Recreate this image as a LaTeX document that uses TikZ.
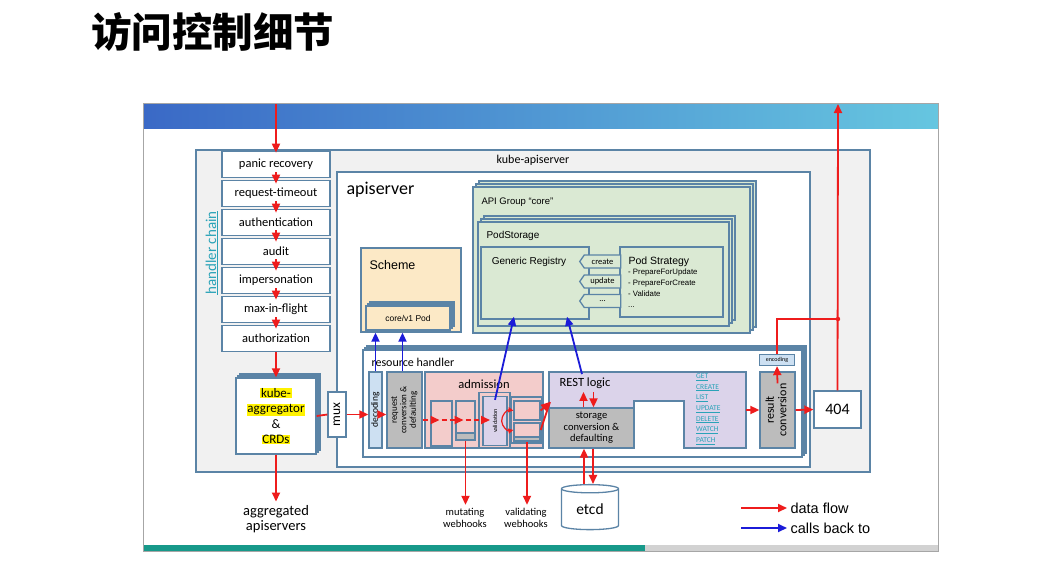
\documentclass[tikz,border=0pt]{standalone}
\usepackage{fontspec}
\setmainfont{Liberation Sans}
\newfontfamily\calib{Carlito}
\newfontfamily\cjk{Noto Sans CJK SC}
\usetikzlibrary{arrows.meta,shadows,shapes.geometric,shapes.symbols}

\definecolor{boxblue}{HTML}{5B84A6}
\definecolor{kasgray}{HTML}{F1F1F1}
\definecolor{grpgreen}{HTML}{DAE9D3}
\definecolor{schpeach}{HTML}{FCE9C6}
\definecolor{admpink}{HTML}{F3CCCB}
\definecolor{restlav}{HTML}{DBD3EA}
\definecolor{convgray}{HTML}{BCBCBC}
\definecolor{declblue}{HTML}{CDE0F2}
\definecolor{linkteal}{HTML}{2AA3B8}
\definecolor{flowred}{HTML}{EE1C1C}
\definecolor{callblue}{HTML}{1B1BD8}
\definecolor{bandleft}{HTML}{3A69C6}
\definecolor{bandright}{HTML}{66C6E0}
\definecolor{barteal}{HTML}{17998A}

\newcommand\yhl[1]{{\setlength{\fboxsep}{0.6pt}\colorbox{yellow}{#1}}}
\newcommand\vtext[1]{\rotatebox{90}{\begin{tabular}{@{}c@{}}#1\end{tabular}}}

\tikzset{
  box/.style={draw=boxblue, line width=1.3pt, inner sep=0pt, font=\calib},
  chainbox/.style={box, line width=1.7pt, fill=white, minimum width=108pt, minimum height=26pt,
    font=\calib\fontsize{12.5}{14}\selectfont},
  stack/.style 2 args={
    general shadow={shadow scale=1, shadow xshift=2*#1, shadow yshift=2*#1,
      fill=#2, draw=boxblue, line width=1.3pt},
    general shadow={shadow scale=1, shadow xshift=#1, shadow yshift=#1,
      fill=#2, draw=boxblue, line width=1.3pt}},
  tabbox/.style={box, fill=grpgreen, signal, signal to=west, signal pointer angle=110,
    minimum width=41pt, minimum height=13pt, font=\calib\fontsize{8.5}{9}\selectfont},
  verb/.style={anchor=west, inner sep=0pt, text=linkteal, font=\calib\fontsize{7.5}{8}\selectfont},
  redline/.style={flowred, line width=1.8pt},
  flow/.style={redline, -{Triangle[length=9pt,width=8pt]}},
  dflow/.style={flow, dash pattern=on 5pt off 3pt},
  smallflow/.style={flowred, line width=1.2pt, -{Triangle[length=5pt,width=5pt]}},
  callback/.style={callblue, line width=1.8pt, -{Triangle[length=9pt,width=8pt]}},
}

\begin{document}
\begin{tikzpicture}[x=1pt,y=-1pt]
\useasboundingbox (0,0) rectangle (1047,566);

\node[anchor=west, inner sep=0pt, font=\cjk\bfseries\fontsize{40.5}{44}\selectfont] (title) at (91,32) {访问控制细节};

% slide picture frame
\fill[white] (143,103) rectangle (938,551);
\shade[left color=bandleft, right color=bandright] (143,103) rectangle (938,128);
\fill[barteal] (143,545) rectangle (645,551);
\fill[gray!35] (645,545) rectangle (938,551);
\draw[gray!70, line width=1pt] (143,103) rectangle (938,551);

% containers
\node[box, fill=kasgray, minimum width=674pt, minimum height=322pt] (kas) at (533,311) {};
\node[font=\calib\fontsize{12}{13}\selectfont] (kaslbl) at (533,160) {kube-apiserver};
\node[text=linkteal, font=\calib\fontsize{15}{17}\selectfont] (hclbl) at (212,253) {\rotatebox{90}{\underline{handler chain}}};
\node[box, fill=white, minimum width=473pt, minimum height=295pt] (apis) at (573.5,319.5) {};
\node[anchor=west, font=\calib\fontsize{18}{20}\selectfont] (apislbl) at (343,190) {apiserver};

% handler chain
\node[chainbox] (panic) at (276,164.5) {panic recovery};
\node[chainbox] (timeout) at (276,193.5) {request-timeout};
\node[chainbox] (authn) at (276,222.5) {authentication};
\node[chainbox] (audit) at (276,251.5) {audit};
\node[chainbox] (imper) at (276,280.5) {impersonation};
\node[chainbox] (maxin) at (276,309.5) {max-in-flight};
\node[chainbox] (authz) at (276,338.5) {authorization};
\coordinate (in) at (276,104);
\draw[flow] (in) -- ([yshift=-2pt]panic.north);
\foreach \a/\b in {panic/timeout, timeout/authn, authn/audit, audit/imper, imper/maxin, maxin/authz}
  \draw[flow] ([yshift=6pt]\a.south) -- ([yshift=-4pt]\b.north);

\node[box, fill=white, stack={2pt}{white}, minimum width=80pt, minimum height=76pt, align=center,
  font=\calib\fontsize{13}{15.5}\selectfont] (kagg) at (276,416) {\yhl{kube-}\\\yhl{aggregator}\\\&\\\yhl{CRDs}};
\node[box, fill=white, minimum width=18pt, minimum height=45pt,
  font=\calib\fontsize{13.5}{14}\selectfont] (mux) at (337,414.5) {\rotatebox{90}{mux}};
\draw[flow] (authz.south) -- (kagg.north);
\node[align=center, font=\calib\fontsize{14.5}{15.5}\selectfont] (aggr) at (276,519) {aggregated\\apiservers};
\draw[flow] (kagg.south) -- (aggr.north);

% API group
\node[box, fill=grpgreen, stack={3pt}{grpgreen}, minimum width=277pt, minimum height=146pt] (group) at (611.5,260) {};
\node[anchor=west, font=\fontsize{9.5}{11}\selectfont] (grouplbl) at (478,202) {API Group “core”};
\node[box, fill=grpgreen, stack={3pt}{grpgreen}, minimum width=251pt, minimum height=104pt] (podst) at (603.5,274) {};
\node[anchor=west, font=\fontsize{10}{12}\selectfont] (podstlbl) at (483,236) {PodStorage};
\node[box, fill=grpgreen, minimum width=108pt, minimum height=72pt] (generic) at (535,283) {};
\node[font=\fontsize{10}{11}\selectfont] (genericlbl) at (529,262) {Generic Registry};
\node[box, fill=grpgreen, minimum width=103pt, minimum height=70pt] (strategy) at (671.5,282) {};
\node[anchor=west, font=\fontsize{10.5}{12}\selectfont] (strategylbl) at (625,262) {Pod Strategy};
\node[anchor=north west, align=left, inner sep=0pt, font=\fontsize{7.8}{11}\selectfont] (strategylist) at (628,269)
  {- PrepareForUpdate\\- PrepareForCreate\\- Validate\\...};
\node[tabbox] (create) at (602.5,261.5) {create};
\node[tabbox] (update) at (602.5,281.5) {update};
\node[tabbox] (more) at (602.5,301) {...};

% scheme
\node[box, fill=schpeach, minimum width=100pt, minimum height=84pt] (scheme) at (411,290) {};
\node[anchor=west, font=\fontsize{12.5}{14}\selectfont] (schemelbl) at (366,265) {Scheme};
\node[box, fill=schpeach, stack={2pt}{schpeach}, minimum width=84pt, minimum height=24pt,
  font=\fontsize{8.5}{10}\selectfont] (corepod) at (408,318) {core/v1 Pod};

% resource handler
\node[box, fill=white, stack={2pt}{white}, minimum width=439pt, minimum height=107pt] (handler) at (582.5,403.5) {};
\node[anchor=west, font=\calib\fontsize{12}{13}\selectfont] (handlerlbl) at (368,362) {resource handler};
\node[box, fill=declblue, minimum width=13pt, minimum height=76pt,
  font=\calib\fontsize{9.5}{10}\selectfont] (decoding) at (375.5,410) {\rotatebox{90}{decoding}};
\node[box, fill=convgray, minimum width=35pt, minimum height=76pt,
  font=\calib\fontsize{9}{9.5}\selectfont] (reqconv) at (404.5,410) {\vtext{request\\conversion \&\\defaulting}};

% admission
\node[box, fill=admpink, minimum width=118pt, minimum height=76pt] (admission) at (484,410) {};
\node[font=\calib\fontsize{12.5}{14}\selectfont] (admissionlbl) at (484,384) {admission};
\node[box, fill=admpink, minimum width=21pt, minimum height=45pt] (mut1) at (441.5,423.5) {};
\node[box, fill=admpink, minimum width=19pt, minimum height=39pt] (mut2) at (465.5,420.5) {};
\node[box, fill=convgray, minimum width=19pt, minimum height=7pt] (mut2s) at (465.5,436.5) {};
\node[box, fill=admpink, minimum width=31pt, minimum height=55pt] (valwrap) at (494.5,420) {};
\node[box, fill=restlav, minimum width=24pt, minimum height=49pt,
  font=\calib\fontsize{6}{7}\selectfont] (val) at (495,421) {\rotatebox{90}{validation}};
\node[box, fill=admpink, minimum width=31pt, minimum height=46pt] (vwrap) at (526.5,420) {};
\node[box, fill=admpink, minimum width=26pt, minimum height=19pt] (vup) at (527,410.5) {};
\node[box, fill=admpink, minimum width=26pt, minimum height=14pt] (vlo) at (527,430) {};
\node[box, fill=convgray, minimum width=26pt, minimum height=4pt] (vlos) at (527,439) {};

% REST logic
\path[draw=boxblue, line width=1.3pt, fill=restlav] (549,372) -- (746,372) -- (746,448) -- (684,448)
  -- (684,401) -- (634,401) -- (634,448) -- (549,448) -- cycle;
\node[font=\calib\fontsize{12.5}{14}\selectfont] (rest) at (585,383) {REST logic};
\node[box, fill=convgray, minimum width=85pt, minimum height=40pt, align=center,
  font=\calib\fontsize{10.5}{11.5}\selectfont] (storage) at (591.5,428) {storage\\conversion \&\\defaulting};
\foreach \v [count=\i] in {GET,CREATE,LIST,UPDATE,DELETE,WATCH,PATCH}
  \node[verb] (verb\i) at (696,{377+10.7*(\i-1)}) {\underline{\v}};

% result
\node[box, fill=convgray, minimum width=35pt, minimum height=76pt,
  font=\calib\fontsize{12}{12.5}\selectfont] (result) at (777.5,410) {\vtext{result\\conversion}};
\node[box, fill=declblue, minimum width=35pt, minimum height=11pt,
  font=\calib\fontsize{6}{7}\selectfont] (enc) at (777,360) {encoding};
\node[box, fill=white, minimum width=47pt, minimum height=37pt,
  font=\calib\fontsize{16}{17}\selectfont] (e404) at (837.5,409.5) {404};

% etcd and webhooks
\node[box, cylinder, shape border rotate=90, aspect=0.3, fill=white, minimum width=57pt, minimum height=45pt,
  font=\calib\fontsize{15.5}{17}\selectfont] (etcd) at (590,509.5) {etcd};
\node[align=center, font=\calib\fontsize{10.5}{12}\selectfont] (mutwh) at (465,518) {mutating\\webhooks};
\node[align=center, font=\calib\fontsize{10.5}{12}\selectfont] (valwh) at (526,518) {validating\\webhooks};

% data flow
\draw[redline] (kagg.east) -- (mux.west);
\draw[flow] (mux.east) -- (decoding.west |- mux.east);
\draw[flow] (decoding.east |- mux.east) -- (reqconv.west |- mux.east);
\coordinate (row) at (0,420);
\draw[dflow] (reqconv.east |- row) -- ([xshift=-2pt]mut1.center |- row);
\draw[dflow] (mut1.center |- row) -- ([xshift=-2pt]mut2.center |- row);
\draw[dflow] (mut2.center |- row) -- ([xshift=-5pt]val.center |- row);
\draw[smallflow] ([xshift=-6pt]val.east) to[bend left=50] (vup.west);
\draw[smallflow] ([xshift=-6pt]val.east) to[bend right=50] (vlo.west);
\coordinate (restin) at (550,402);
\draw[flow] (vup.east) -- (restin);
\draw[redline] (vlo.east) -- (restin);
\draw[flow] (mut2s.south) -- (mutwh.north -| mut2s.south);
\draw[flow] (vlos.south) -- (valwh.north -| vlos.south);
\draw[flow] ([xshift=-8pt]storage.north) -- ([xshift=-8pt]storage.north |- rest.south);
\draw[flow] ([xshift=2pt]storage.north |- rest.south) -- ([xshift=2pt]storage.north);
\draw[flow] ([xshift=-7.5pt]storage.south |- etcd.north) -- ([xshift=-7.5pt]storage.south);
\draw[flow] ([xshift=1.5pt]storage.south) -- ([xshift=1.5pt]storage.south |- etcd.north);
\coordinate (restout) at (746,410);
\draw[flow] (restout) -- (result.west);
\draw[flow] (result.east) -- (e404.west);
\draw[flow] ([yshift=-12pt]result.north) -- (enc.south);
\coordinate (join) at (838,319);
\coordinate (out) at (838,104);
\draw[redline] (enc.north) |- (join);
\fill[flowred] (join) circle (2.2pt);
\draw[flow] (e404.north) -- (out);

% calls back to
\draw[callback] (decoding.north) -- (decoding.north |- scheme.south);
\draw[callback] ([xshift=-2pt]reqconv.north) -- ([xshift=-2pt]reqconv.north |- scheme.south);
\draw[callback] ([yshift=-4pt]val.north) -- ([xshift=-21pt,yshift=3pt]generic.south);
\draw[callback] ([xshift=-3pt]rest.north) -- ([xshift=32pt,yshift=3pt]generic.south);

% legend
\coordinate (lgf) at (741,508);
\coordinate (lgc) at (741,528);
\node[anchor=west, font=\fontsize{14.5}{16}\selectfont] (lgflow) at (787,508) {data flow};
\node[anchor=west, font=\fontsize{14.5}{16}\selectfont] (lgcall) at (787,528) {calls back to};
\draw[flow] (lgf) -- (lgflow.west);
\draw[callback] (lgc) -- (lgcall.west);
\end{tikzpicture}
\end{document}
